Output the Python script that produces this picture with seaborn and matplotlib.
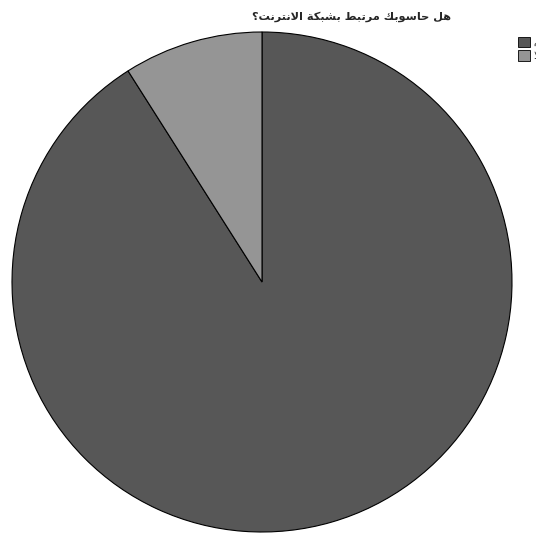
import matplotlib
matplotlib.use("Agg")
import matplotlib.pyplot as plt
from matplotlib.patches import Patch
import seaborn as sns

# Data
categories = ["نعم", "لا"]
values = [91, 9]
colors = ["#575757", "#959595"]
title = "هل حاسوبك مرتبط بشبكة الانترنت؟"

# Pre-shaped (presentation forms, visual order) versions for rendering
def shaped_title():
    glyphs = [
        "\uFEEB", "\uFEDE", " ",
        "\uFEA3", "\uFE8E", "\uFEB3", "\uFEEE", "\uFE91", "\uFEDA", " ",
        "\uFEE3", "\uFEAE", "\uFE97", "\uFE92", "\uFEC2", " ",
        "\uFE91", "\uFEB8", "\uFE92", "\uFEDC", "\uFE94", " ",
        "\uFE8D", "\uFEFB", "\uFEE7", "\uFE98", "\uFEAE", "\uFEE7", "\uFE96", "\u061F",
    ]
    return "".join(reversed(glyphs))

shaped_labels = ["".join(reversed(["\uFEE7", "\uFECC", "\uFEE2"])), "\uFEFB"]

sns.set_style("white")
plt.rcParams["font.family"] = ["DejaVu Sans"]

fig = plt.figure(figsize=(5.36, 5.34), dpi=100)
ax = fig.add_axes([12 / 536, 2 / 534, 500 / 536, 500 / 534])
wedges, _ = ax.pie(values, colors=colors, startangle=90, counterclock=False,
                   wedgeprops=dict(edgecolor="black", linewidth=0.8))
ax.set_xlim(-1.0, 1.0)
ax.set_ylim(-1.0, 1.0)
ax.set_aspect("equal")
ax.axis("off")

fig.text(352 / 536, 1 - 17 / 534, shaped_title(), ha="center", va="center",
         fontsize=8.2, fontweight="bold")

handles = [Patch(facecolor=c, edgecolor="black", linewidth=0.6) for c in colors]
fig.legend(handles, shaped_labels, loc="upper left",
           bbox_to_anchor=(511 / 536, 1 - 30 / 534), frameon=False,
           fontsize=7, handlelength=1.3, handleheight=1.3, handletextpad=0.3,
           labelspacing=0.3, borderpad=0.2)

fig.savefig("out.png", dpi=100)
